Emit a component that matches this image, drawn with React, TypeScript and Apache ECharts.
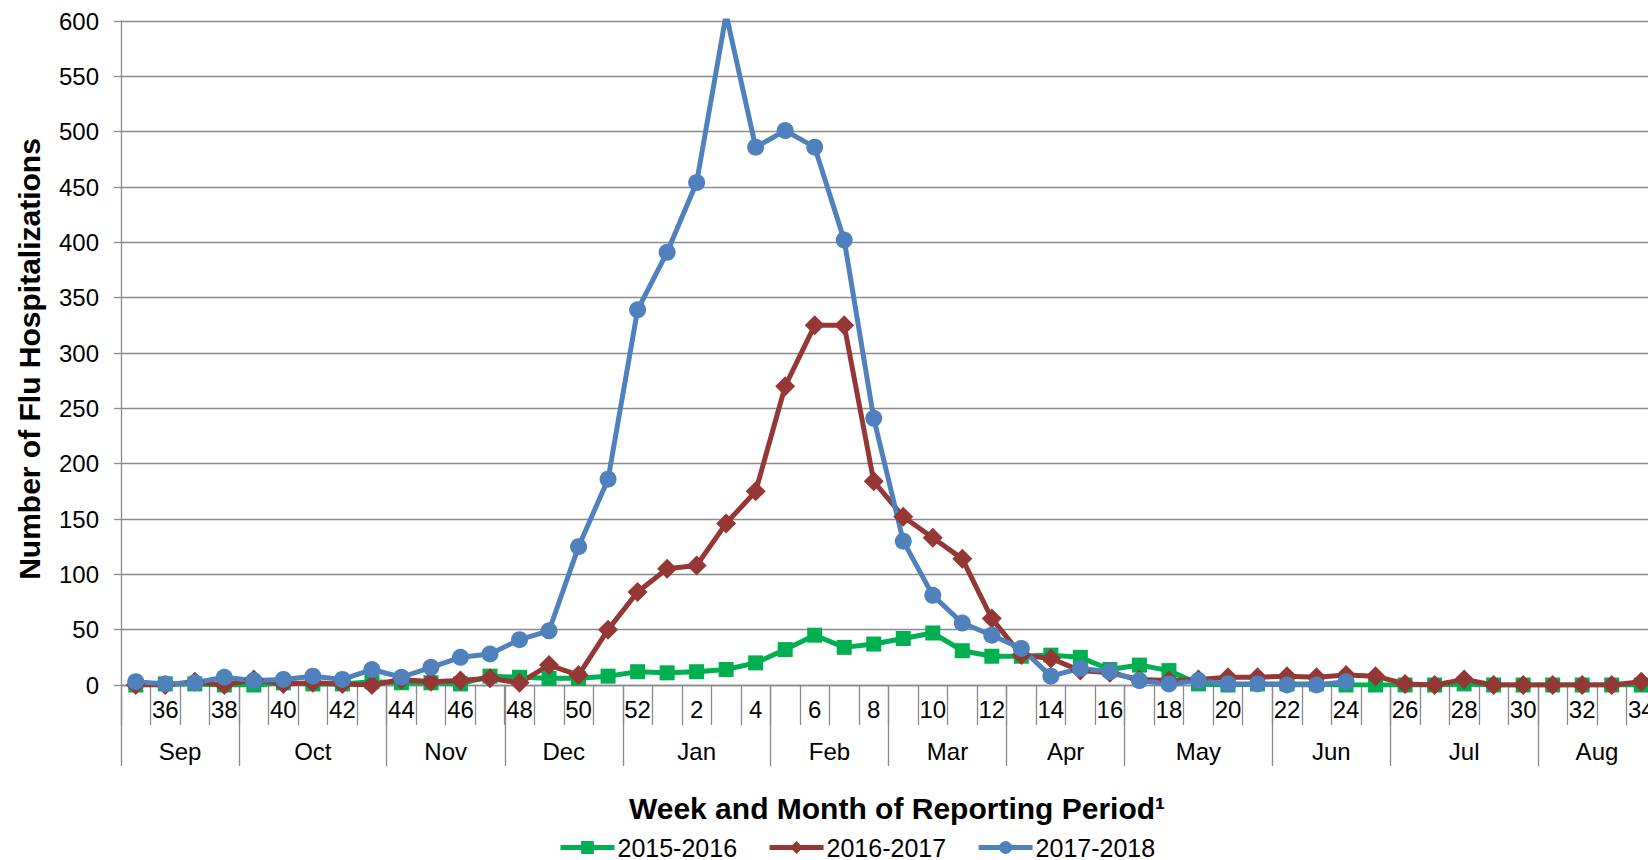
import React, { useEffect, useRef } from "react";
import * as echarts from "echarts";

const weeks = [
  "35", "36", "37", "38", "39", "40", "41", "42", "43", "44", "45", "46", "47", "48", "49", "50", "51", "52",
  "1", "2", "3", "4", "5", "6", "7", "8", "9", "10", "11", "12", "13", "14", "15", "16", "17",
  "18", "19", "20", "21", "22", "23", "24", "25", "26", "27", "28", "29", "30", "31", "32", "33", "34",
];

const months = ["Sep", "Oct", "Nov", "Dec", "Jan", "Feb", "Mar", "Apr", "May", "Jun", "Jul", "Aug"];
// month boundaries in week-slot units (start of each month, plus the end)
const monthBounds = [0, 4, 9, 13, 17, 22, 26, 30, 34, 39, 43, 48, 52];

const s2015 = [
  0, 1, 1, 0, 0, 2, 1, 1, 3, 2, 2, 1, 8, 7, 6, 6, 8, 12, 11, 12, 14, 20, 32, 45, 34, 37,
  42, 47, 31, 26, 26, 27, 25, 14, 18, 13, 1, 0, 1, 1, 1, 0, 0, 0, 0, 1, 0, 0, 0, 0, 0, 0,
];
const s2016 = [
  0, 0, 3, 0, 5, 1, 2, 1, 0, 5, 3, 4, 6, 2, 18, 9, 50, 84, 105, 108, 146, 175, 270, 325, 325, 184,
  152, 133, 114, 60, 27, 24, 13, 11, 5, 4, 5, 7, 7, 8, 7, 9, 8, 1, 0, 5, 0, 0, 0, 0, 0, 3,
];
const s2017 = [
  3, 1, 2, 7, 4, 5, 8, 5, 14, 7, 16, 25, 28, 41, 49, 125, 186, 339, 391, 454, 606, 486, 501, 486, 402, 241,
  130, 81, 56, 45, 33, 8, 15, 12, 4, 1, 4, 1, 1, 0, 0, 3,
];

const seriesNames = ["2015-2016", "2016-2017", "2017-2018"];
const colors = ["#00B050", "#953735", "#4F81BD"];

const FONT = "'Liberation Sans', Arial, sans-serif";
const GRID_COLOR = "#8a8a8a";

export default function App() {
  const ref = useRef<HTMLDivElement>(null);

  useEffect(() => {
    if (!ref.current) return;
    const chart = echarts.init(ref.current, undefined, { renderer: "svg" });
    const monthCenters = months.map((_, i) => (monthBounds[i] + monthBounds[i + 1]) / 2);

    const mkSeries = (name: string, data: number[], color: string, symbol: string, size: number) => ({
      name,
      type: "line",
      xAxisIndex: 0,
      yAxisIndex: 0,
      data,
      symbol,
      symbolSize: size,
      showAllSymbol: true,
      clip: true,
      lineStyle: { color, width: 5 },
      itemStyle: { color, borderWidth: 0 },
      emphasis: { disabled: true },
    });

    chart.setOption({
      animation: false,
      textStyle: { fontFamily: FONT },
      grid: { left: 121, top: 21, width: 1535, height: 664, containLabel: false },
      xAxis: [
        {
          type: "category",
          data: weeks,
          boundaryGap: true,
          position: "bottom",
          axisLine: { show: true, lineStyle: { color: GRID_COLOR, width: 1.3 } },
          axisTick: { show: true, interval: 0, length: 40, lineStyle: { color: GRID_COLOR, width: 1.3 } },
          axisLabel: {
            interval: (index: number) => index % 2 === 1,
            color: "#000",
            fontSize: 24,
            fontFamily: FONT,
            margin: 12,
          },
          splitLine: { show: false },
        },
        {
          type: "value",
          min: 0,
          max: 52,
          position: "bottom",
          axisLine: { show: false },
          axisTick: {
            show: true,
            customValues: monthBounds,
            length: 81,
            lineStyle: { color: GRID_COLOR, width: 1.3 },
          },
          axisLabel: {
            customValues: monthCenters,
            formatter: (v: number) => {
              const i = monthCenters.indexOf(v);
              return i >= 0 ? months[i] : "";
            },
            color: "#000",
            fontSize: 24,
            fontFamily: FONT,
            margin: 54,
          },
          splitLine: { show: false },
        },
      ],
      yAxis: {
        type: "value",
        min: 0,
        max: 600,
        interval: 50,
        name: "Number of Flu Hospitalizations",
        nameLocation: "middle",
        nameRotate: 90,
        nameGap: 77,
        nameTextStyle: {
          fontSize: 30,
          fontWeight: "bold",
          color: "#000",
          fontFamily: FONT,
          padding: [0, 12, 0, 0],
        },
        axisLine: { show: true, lineStyle: { color: GRID_COLOR, width: 1.3 } },
        axisTick: { show: true, length: 7, lineStyle: { color: GRID_COLOR, width: 1.3 } },
        axisLabel: { color: "#000", fontSize: 24, fontFamily: FONT, margin: 22 },
        splitLine: { show: true, lineStyle: { color: GRID_COLOR, width: 1.3 } },
      },
      legend: {
        left: 553,
        top: 830,
        itemWidth: 54,
        itemHeight: 16,
        itemGap: 30,
        lineStyle: { width: 5 },
        textStyle: { fontSize: 25, color: "#000", fontFamily: FONT, padding: [0, 0, 0, -2] },
        data: seriesNames,
      },
      graphic: [
        {
          type: "text",
          x: 897,
          y: 808,
          style: {
            text: "Week and Month of Reporting Period¹",
            fontSize: 30,
            fontWeight: "bold",
            fontFamily: FONT,
            fill: "#000",
            textAlign: "center",
            textVerticalAlign: "middle",
          },
        },
      ],
      series: [
        mkSeries(seriesNames[0], s2015, colors[0], "rect", 15),
        mkSeries(seriesNames[1], s2016, colors[1], "diamond", 20),
        mkSeries(seriesNames[2], s2017, colors[2], "circle", 17),
      ],
    });

    return () => chart.dispose();
  }, []);

  return (
    <div style={{ position: "fixed", left: 0, top: 0, width: 1648, height: 860, overflow: "hidden", background: "#fff" }}>
      <div ref={ref} style={{ position: "absolute", left: 0, top: 0, width: 1700, height: 860 }} />
    </div>
  );
}
